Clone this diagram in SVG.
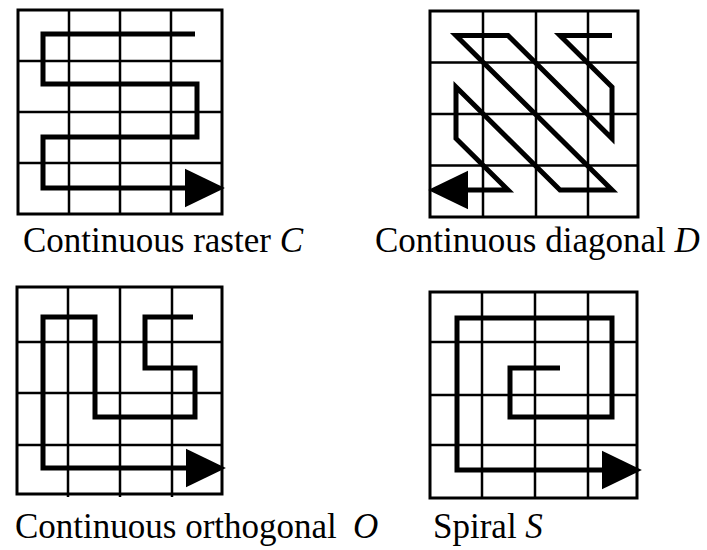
<svg xmlns="http://www.w3.org/2000/svg" width="707" height="550" viewBox="0 0 707 550">
<style>
.grid{fill:none;stroke:#000;stroke-width:2.5}
.border{fill:none;stroke:#000;stroke-width:3}
.path{fill:none;stroke:#000;stroke-width:5;stroke-linejoin:miter}
.lbl{font-family:"Liberation Serif","Times New Roman",serif;font-size:35px;fill:#000}
.it{font-style:italic}
</style>
<defs>
<marker id="ah" markerUnits="userSpaceOnUse" markerWidth="40" markerHeight="40" viewBox="0 0 33 32" refX="10" refY="16" orient="auto">
<path d="M0,0 L33,16 L0,32 Z" fill="#000"/>
</marker>
</defs>
<rect width="707" height="550" fill="#fff"/>
<g id="raster">
<rect class="border" x="18" y="10" width="204" height="204"/>
<path class="grid" d="M69,10V214M120,10V214M171,10V214M18,61H222M18,112H222M18,163H222"/>
</g>
<g id="diagonal">
<rect class="border" x="430" y="11" width="208" height="206"/>
<path class="grid" d="M483,11V217M536,11V217M588,11V217M430,62.5H638M430,114H638M430,165.5H638"/>
</g>
<g id="orthogonal">
<rect class="border" x="17" y="287" width="205" height="207"/>
<path class="grid" d="M68,287V497M120,287V497M172,287V497M17,342H222M17,393H222M17,445H222"/>
</g>
<g id="spiral">
<rect class="border" x="430" y="292" width="207" height="206"/>
<path class="grid" d="M482,292V498M535,292V498M588,292V498M430,342H637M430,395H637M430,445H637"/>
</g>
<g id="connectors">
<path class="path" marker-end="url(#ah)" d="M195,34H43V84H197V137H43V188H197"/>
<path class="path" marker-end="url(#ah)" d="M612,35.5H560L612,87V138.5L508,35.5H456L612,190H560L456,87V138.5L508,190H456"/>
<path class="path" marker-end="url(#ah)" d="M193,317H145V368H195V417H95V317H43V468H198"/>
<path class="path" marker-end="url(#ah)" d="M560,368H510V417H612V318H457V470H614"/>
</g>
<g id="labels">
<text class="lbl" x="23" y="252">Continuous raster <tspan class="it">C</tspan></text>
<text class="lbl" x="375" y="252">Continuous diagonal <tspan class="it">D</tspan></text>
<text class="lbl" x="15" y="538">Continuous orthogonal <tspan class="it" x="353">O</tspan></text>
<text class="lbl" x="433" y="538">Spiral <tspan class="it">S</tspan></text>
</g>
</svg>
